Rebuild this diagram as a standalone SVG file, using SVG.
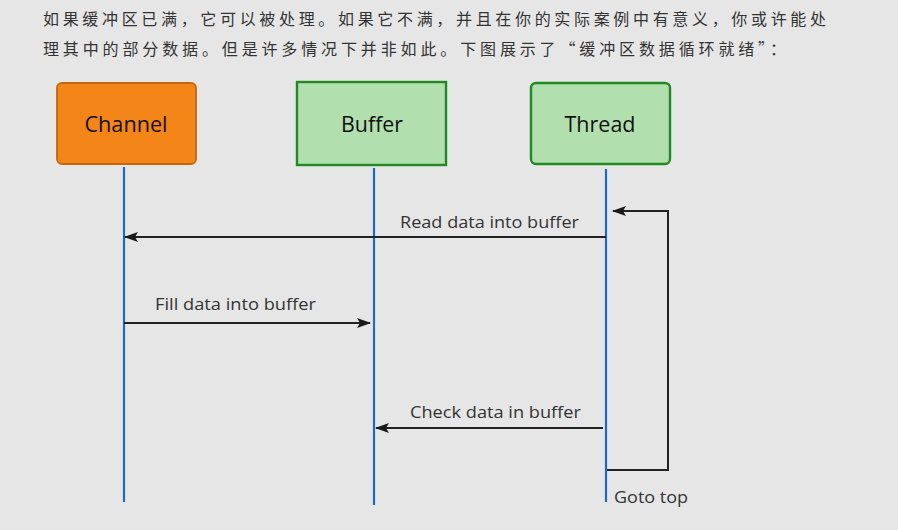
<svg xmlns="http://www.w3.org/2000/svg" width="898" height="530" viewBox="0 0 898 530">
<defs>
<marker id="ah" markerWidth="14" markerHeight="10" refX="13" refY="5" orient="auto" markerUnits="userSpaceOnUse">
<path d="M0,0 L14,5 L0,10 L3,5 Z" fill="#1a1a1a"/>
</marker>
<style>
.cn{font-family:"Noto Sans CJK SC",sans-serif;font-size:16px;fill:#333}
.box{font-family:"Open Sans","Noto Sans",sans-serif;font-size:21px;fill:#111;text-anchor:middle}
.lbl{font-family:"Open Sans","Noto Sans",sans-serif;font-size:17px;fill:#333}
.life{stroke:#1e6bbf;stroke-width:2.2;fill:none}
.msg{stroke:#222;stroke-width:2;fill:none}
.green{fill:#b1dfae;stroke:#238a23;stroke-width:2.4}
</style>
</defs>
<rect width="898" height="530" fill="#e6e6e6"/>
<text class="cn" x="43" y="25" textLength="783" lengthAdjust="spacing">如果缓冲区已满，它可以被处理。如果它不满，并且在你的实际案例中有意义，你或许能处</text>
<text class="cn" x="43" y="55" textLength="743" lengthAdjust="spacing">理其中的部分数据。但是许多情况下并非如此。下图展示了“缓冲区数据循环就绪”：</text>

<g id="channel">
<rect x="57" y="83" width="139" height="81" rx="5" fill="#f48519" stroke="#c4650f" stroke-width="1.8"/>
<text class="box" x="126" y="132" textLength="83" lengthAdjust="spacingAndGlyphs">Channel</text>
</g>
<g id="buffer">
<rect class="green" x="297" y="82" width="149" height="83"/>
<text class="box" x="372" y="132" textLength="62" lengthAdjust="spacingAndGlyphs">Buffer</text>
</g>
<g id="thread">
<rect class="green" x="531" y="83" width="139" height="81" rx="5"/>
<text class="box" x="600" y="132" textLength="71" lengthAdjust="spacingAndGlyphs">Thread</text>
</g>

<g id="lifelines">
<line class="life" x1="124" y1="167" x2="124" y2="502"/>
<line class="life" x1="374" y1="168" x2="374" y2="505"/>
<line class="life" x1="606" y1="169" x2="606" y2="502"/>
</g>

<g id="connectors">
<line class="msg" x1="606" y1="237" x2="125" y2="237" marker-end="url(#ah)"/>
<text class="lbl" x="400" y="228" textLength="179" lengthAdjust="spacingAndGlyphs">Read data into buffer</text>
<line class="msg" x1="124" y1="323" x2="370" y2="323" marker-end="url(#ah)"/>
<text class="lbl" x="155" y="310" textLength="161" lengthAdjust="spacingAndGlyphs">Fill data into buffer</text>
<line class="msg" x1="603" y1="428" x2="376" y2="428" marker-end="url(#ah)"/>
<text class="lbl" x="410" y="418" textLength="171" lengthAdjust="spacingAndGlyphs">Check data in buffer</text>
<path class="msg" d="M607,470 H668 V211 H613" marker-end="url(#ah)"/>
<text class="lbl" x="614" y="503" textLength="74" lengthAdjust="spacingAndGlyphs">Goto top</text>
</g>
</svg>
